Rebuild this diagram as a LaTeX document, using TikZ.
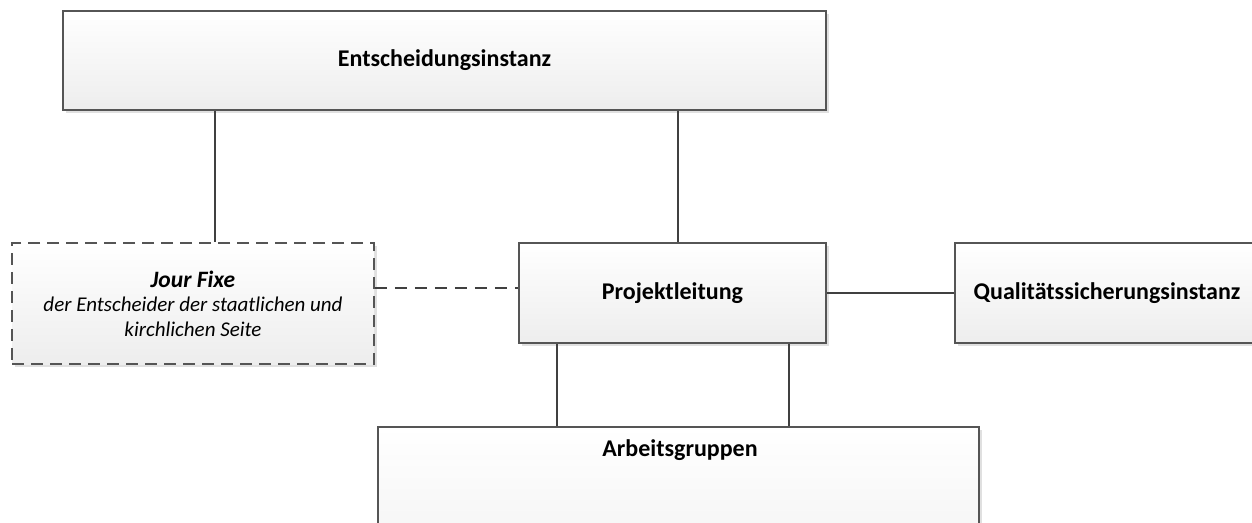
\documentclass[tikz,border=0pt]{standalone}
\usepackage{fontspec}
\setmainfont{Carlito}
\usetikzlibrary{shadows}
\definecolor{boxline}{HTML}{555555}
\tikzset{
  orgbox/.style={draw=boxline, line width=1.6pt, top color=white, bottom color=black!7,
    drop shadow={shadow xshift=3pt, shadow yshift=-3pt, fill=black!12, opacity=1},
    inner sep=0pt, align=center, font=\fontsize{24}{28}\selectfont\bfseries},
  jfbox/.style={orgbox, dash pattern=on 12pt off 7pt},
  link/.style={draw=black!75, line width=1.3pt}
}
\begin{document}
\begin{tikzpicture}[x=1pt, y=-1pt]
                \clip (0,0) rectangle (1252,522);

                % Draw boxes
                \node[orgbox, minimum width=763pt, minimum height=99pt] (ent) at (444.5,60.5) {Entscheidungsinstanz};
                \node[jfbox, minimum width=362pt, minimum height=121pt, font=\fontsize{21}{24.5}\selectfont\itshape] (jf) at (193,303.5)
                    {{\fontsize{23.5}{24.5}\selectfont\bfseries Jour Fixe}\\der Entscheider der staatlichen und\\kirchlichen Seite};
                \node[orgbox, minimum width=307pt, minimum height=100pt] (pl) at (672.5,293) {Projektleitung};
                \node[orgbox, minimum width=304pt, minimum height=100pt] (qs) at (1107,293) {Qualitätssicherungsinstanz};
                \node[orgbox, minimum width=601pt, minimum height=200pt, anchor=north] (ag) at (678.5,426) {};
                \node[font=\fontsize{24}{28}\selectfont\bfseries] (agtext) at (680,450) {Arbeitsgruppen};

                % Draw connections
                \draw[link] (ent.south -| 215,0) -- (jf.north -| 215,0);
                \draw[link] (ent.south -| 678,0) -- (pl.north -| 678,0);
                \draw[link, dash pattern=on 12pt off 8pt] (jf.east |- 0,288) -- (pl.west |- 0,288);
                \draw[link] (pl.east) -- (qs.west);
                \draw[link] (pl.south -| 557,0) -- (ag.north -| 557,0);
                \draw[link] (pl.south -| 789,0) -- (ag.north -| 789,0);
            \end{tikzpicture}
\end{document}
